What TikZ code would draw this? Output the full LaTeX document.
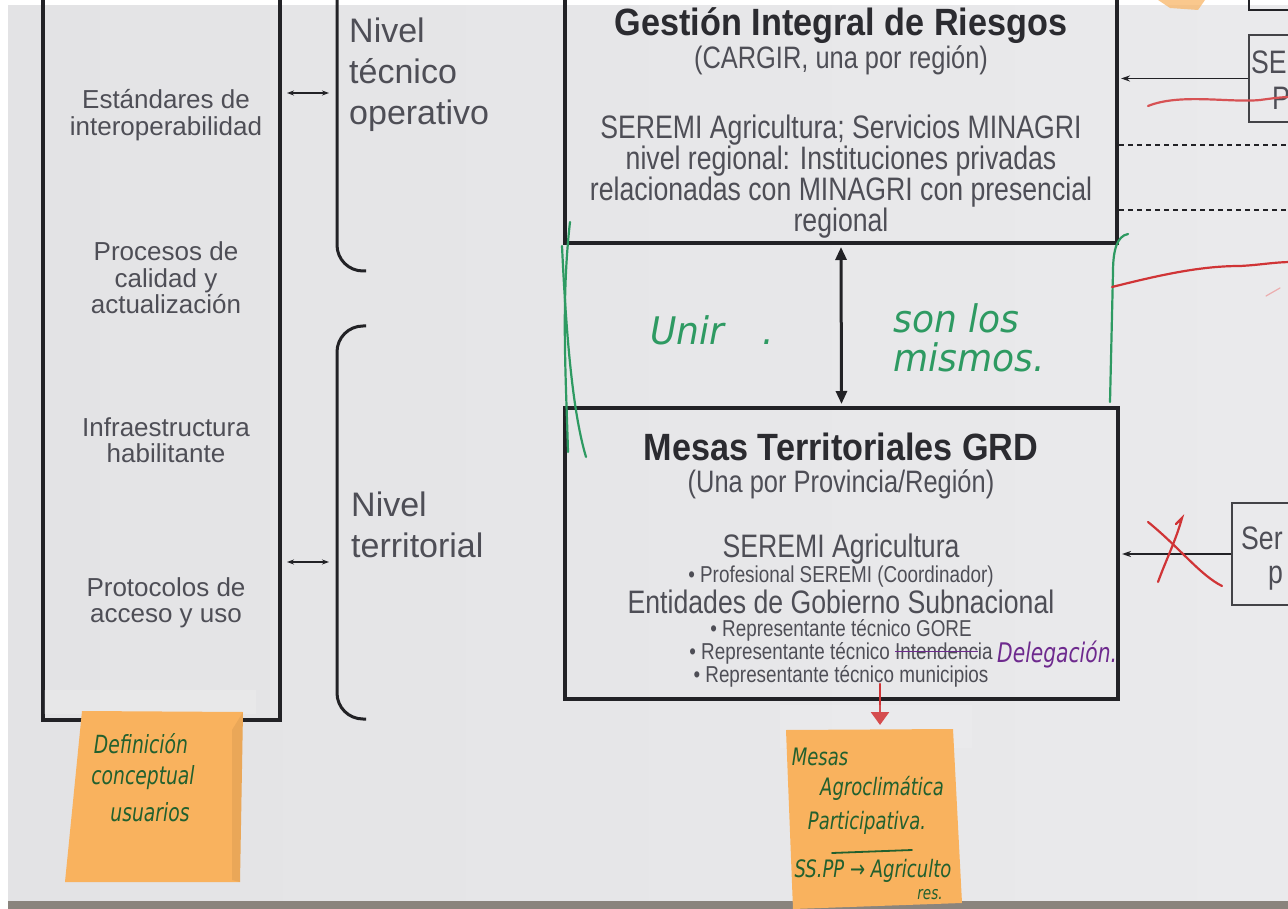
\documentclass[tikz,border=0pt]{standalone}
\usepackage{fontspec}
\setmainfont{Liberation Sans}
\newfontfamily\narrowfont[FakeStretch=0.82]{Liberation Sans}
\newfontfamily\titlefont[FakeStretch=0.9]{Liberation Sans}
\newfontfamily\handfont[FakeStretch=0.75]{DejaVu Sans}
\newfontfamily\widehand[FakeStretch=0.95]{DejaVu Sans}
\usetikzlibrary{arrows.meta}
\definecolor{paperL}{HTML}{E3E3E5}
\definecolor{paperR}{HTML}{EAEAEC}
\definecolor{wood}{HTML}{8A847D}
\definecolor{framegray}{HTML}{222226}
\definecolor{txtgray}{HTML}{4E4E56}
\definecolor{titlegray}{HTML}{2B2B30}
\definecolor{pengreen}{HTML}{2E9A62}
\definecolor{inkgreen}{HTML}{22602E}
\definecolor{penred}{HTML}{D03436}
\definecolor{penpurple}{HTML}{6E2A8E}
\definecolor{sticky}{HTML}{F9B25E}
\newcommand\fsz[2]{\fontsize{#1}{#2}\selectfont}
\newsavebox\strikebox
\newcommand\purplestrike[1]{\sbox\strikebox{#1}\rlap{\usebox\strikebox}\textcolor{penpurple}{\rule[0.3em]{\wd\strikebox}{1.6pt}}}

\begin{document}
\begin{tikzpicture}[x=1pt,y=-1pt,
  frame/.style 2 args={draw=framegray,line width=4pt,minimum width=#1,minimum height=#2,inner sep=0pt},
  sidebox/.style 2 args={draw=framegray!85,line width=1.5pt,minimum width=#1,minimum height=#2,inner sep=0pt},
  lefttxt/.style={text=txtgray,align=center,inner sep=0pt,font=\fsz{26}{26.5}},
  niveltxt/.style={text=txtgray,align=left,anchor=west,inner sep=0pt,font=\fsz{34}{41}},
  boxtitle/.style={text=titlegray,anchor=base,inner sep=0pt,font=\titlefont\bfseries\fsz{38}{40}},
  boxsub/.style={text=txtgray,anchor=base,inner sep=0pt,font=\narrowfont\fsz{31}{34}},
  boxbody/.style={text=txtgray,anchor=base,inner sep=0pt,font=\narrowfont\fsz{32.5}{34}},
  boxbullet/.style={text=txtgray,anchor=base,inner sep=0pt,font=\narrowfont\fsz{23}{25}},
  hand/.style={inner sep=0pt,font=\handfont\itshape\fsz{30}{32}},
  greenhand/.style={inner sep=0pt,text=pengreen,anchor=west,font=\widehand\itshape\fsz{38}{40}},
  stickyhand/.style={inner sep=0pt,text=inkgreen,font=\handfont\itshape\fsz{#1}{26}},
  greenpen/.style={draw=pengreen,line width=2.2pt,line cap=round},
  redpen/.style={draw=penred,line width=2.2pt,line cap=round},
  duo/.style={line width=1.2pt,draw=framegray,{Stealth[length=7pt,width=5pt]}-{Stealth[length=7pt,width=5pt]}},
  brace/.style={draw=framegray,line width=3pt,rounded corners=26pt}]
\useasboundingbox (0,0) rectangle (1288,909);
\clip (0,0) rectangle (1288,909);
\fill[white] (0,0) rectangle (1288,909);
\shade[left color=paperL,right color=paperR] (8,6) rectangle (1288,901);
\fill[wood] (8,901) rectangle (1288,909);
\fill[sticky,opacity=0.7] (1158,0) -- (1205,0) -- (1198,10) -- (1170,8) -- cycle;

\node[frame={237pt}{760pt}] (leftbox) at (161.5,340) {};
\node[lefttxt] (estandares) at (166,115) {Estándares de\\interoperabilidad};
\node[lefttxt] (procesos) at (166,278) {Procesos de\\calidad y\\actualización};
\node[lefttxt] (infra) at (166,440) {Infraestructura\\habilitante};
\node[lefttxt] (protocolos) at (166,603) {Protocolos de\\acceso y uso};

\coordinate (tecL) at (287,93);
\coordinate (tecR) at (329,93);
\coordinate (terL) at (287,562);
\coordinate (terR) at (329,562);
\draw[duo] (tecL) -- (tecR);
\draw[duo] (terL) -- (terR);
\draw[brace] (337,-10) |- (366,271);
\draw[brace] (366,326) -| (337,719) -- (366,719);
\node[niveltxt] (tecnico) at (349,75) {Nivel\\técnico\\operativo};
\node[niveltxt] (territorial) at (351,525) {Nivel\\territorial};

\node[frame={552pt}{283pt}] (cargir) at (841,101.5) {};
\node[boxtitle] (cargir-t) at (841,35.5) {Gestión Integral de Riesgos};
\node[boxsub] (cargir-s) at (841,69) {(CARGIR, una por región)};
\foreach \txt [count=\i] in {SEREMI Agricultura; Servicios MINAGRI,nivel regional: Instituciones privadas,relacionadas con MINAGRI con presencial,regional}
  \node[boxbody] (cargir-\i) at (841,107.5+31*\i) {\txt};

\node[frame={553pt}{291pt}] (mesas) at (841.5,553.5) {};
\node[boxtitle] (mesas-t) at (841,460) {Mesas Territoriales GRD};
\node[boxsub] (mesas-s) at (841,492) {(Una por Provincia/Región)};
\node[boxbody] (seremi) at (841,557) {SEREMI Agricultura};
\node[boxbullet] (prof) at (841,582) {• Profesional SEREMI (Coordinador)};
\node[boxbody] (entidades) at (841,613) {Entidades de Gobierno Subnacional};
\node[boxbullet] (gore) at (841,636) {• Representante técnico GORE};
\node[boxbullet] (interd) at (841,659) {• Representante técnico \purplestrike{Intendenc}ia};
\node[boxbullet] (munic) at (841,682) {• Representante técnico municipios};
\node[hand,text=penpurple,anchor=base west,font=\handfont\itshape\fsz{27}{30}] (delegacion) at (997,662) {Delegación.};

\draw[line width=3pt,draw=framegray,{Triangle[length=13pt,width=11pt]}-{Triangle[length=13pt,width=11pt]},shorten <=2pt,shorten >=2pt] (cargir.south) -- (mesas.north);

\draw[framegray,line width=1.5pt] (1249,-5) -- (1249,10) -- (1300,10);
\node[sidebox={91pt}{87pt}] (seremiR) at (1294.5,78.5) {};
\node[boxbody,anchor=west] (seremiR-a) at (1251,62) {SE};
\node[boxbody,anchor=west] (seremiR-b) at (1272,98) {P};
\node[sidebox={108pt}{102pt}] (servR) at (1286,554) {};
\node[boxbody,anchor=west] (servR-a) at (1241,538) {Ser};
\node[boxbody,anchor=west] (servR-b) at (1268,578) {p};
\draw[line width=1.3pt,framegray,-{Stealth[length=9pt,width=6pt]},shorten >=2pt] (seremiR.west) -- (seremiR.west -| cargir.east);
\draw[line width=1.3pt,framegray,-{Stealth[length=9pt,width=6pt]},shorten >=2pt] (servR.west) -- (servR.west -| mesas.east);
\coordinate (dashA) at (1300,145);
\coordinate (dashB) at (1300,210);
\draw[framegray,line width=1.5pt,dash pattern=on 5pt off 4pt] (dashA -| cargir.east) -- (dashA);
\draw[framegray,line width=1.5pt,dash pattern=on 5pt off 4pt] (dashB -| cargir.east) -- (dashB);

\draw[greenpen] (570,222) .. controls (561,300) and (566,380) .. (568,452);
\draw[greenpen] (562,246) .. controls (566,330) and (572,410) .. (586,457);
\draw[greenpen] (1128,234) .. controls (1117,236) and (1113,250) .. (1113,272) -- (1110,402);
\node[greenhand] (unir) at (650,330) {Unir\hspace{38pt}.};
\node[greenhand] (sonlos) at (893,318) {son los};
\node[greenhand] (mismos) at (893,357) {mismos.};

\draw[redpen,draw=penred!85] (1148,106) .. controls (1180,93) and (1230,103) .. (1260,100) .. controls (1275,98) and (1282,97) .. (1292,97);
\draw[redpen] (1112,287) .. controls (1160,275) and (1200,266) .. (1240,266) .. controls (1260,265) and (1275,262) .. (1292,262);
\draw[redpen,draw=penred!40,line width=1.2pt] (1266,296) -- (1280,288);
\draw[redpen] (1148,522) .. controls (1180,548) and (1200,575) .. (1222,586);
\draw[redpen] (1158,582) .. controls (1166,560) and (1176,540) .. (1182,518) -- (1176,524);
\coordinate (redtail) at (880,684);
\coordinate (redtip) at (880,725);
\draw[redpen,line width=2.6pt,-{Triangle[length=13pt,width=18pt]}] (redtail) -- (redtip);

\fill[white,opacity=0.15] (44,690) rectangle (256,714);
\fill[sticky] (82,711) -- (243,712) -- (240,882) -- (65,882) -- cycle;
\fill[black,opacity=0.06] (232,730) -- (243,712) -- (240,882) -- (232,880) -- cycle;
\node[stickyhand=25] (definicion) at (141,744) {Definición};
\node[stickyhand=25] (conceptual) at (143,778) {conceptual};
\node[stickyhand=25] (usuarios) at (150,812) {usuarios};

\fill[white,opacity=0.12] (780,705) rectangle (972,748);
\fill[sticky] (786,730) -- (953,729) -- (962,903) -- (793,909) -- cycle;
\node[stickyhand=24] (mesasN) at (820,757) {Mesas};
\node[stickyhand=24] (agro) at (882,788) {Agroclimática};
\node[stickyhand=24] (partic) at (867,823) {Participativa.};
\draw[inkgreen,line width=1.8pt,line cap=round] (832,853) -- (912,850);
\node[stickyhand=24] (sspp) at (873,871) {SS.PP → Agriculto};
\node[stickyhand=18] (res) at (930,895) {res.};
\end{tikzpicture}
\end{document}
